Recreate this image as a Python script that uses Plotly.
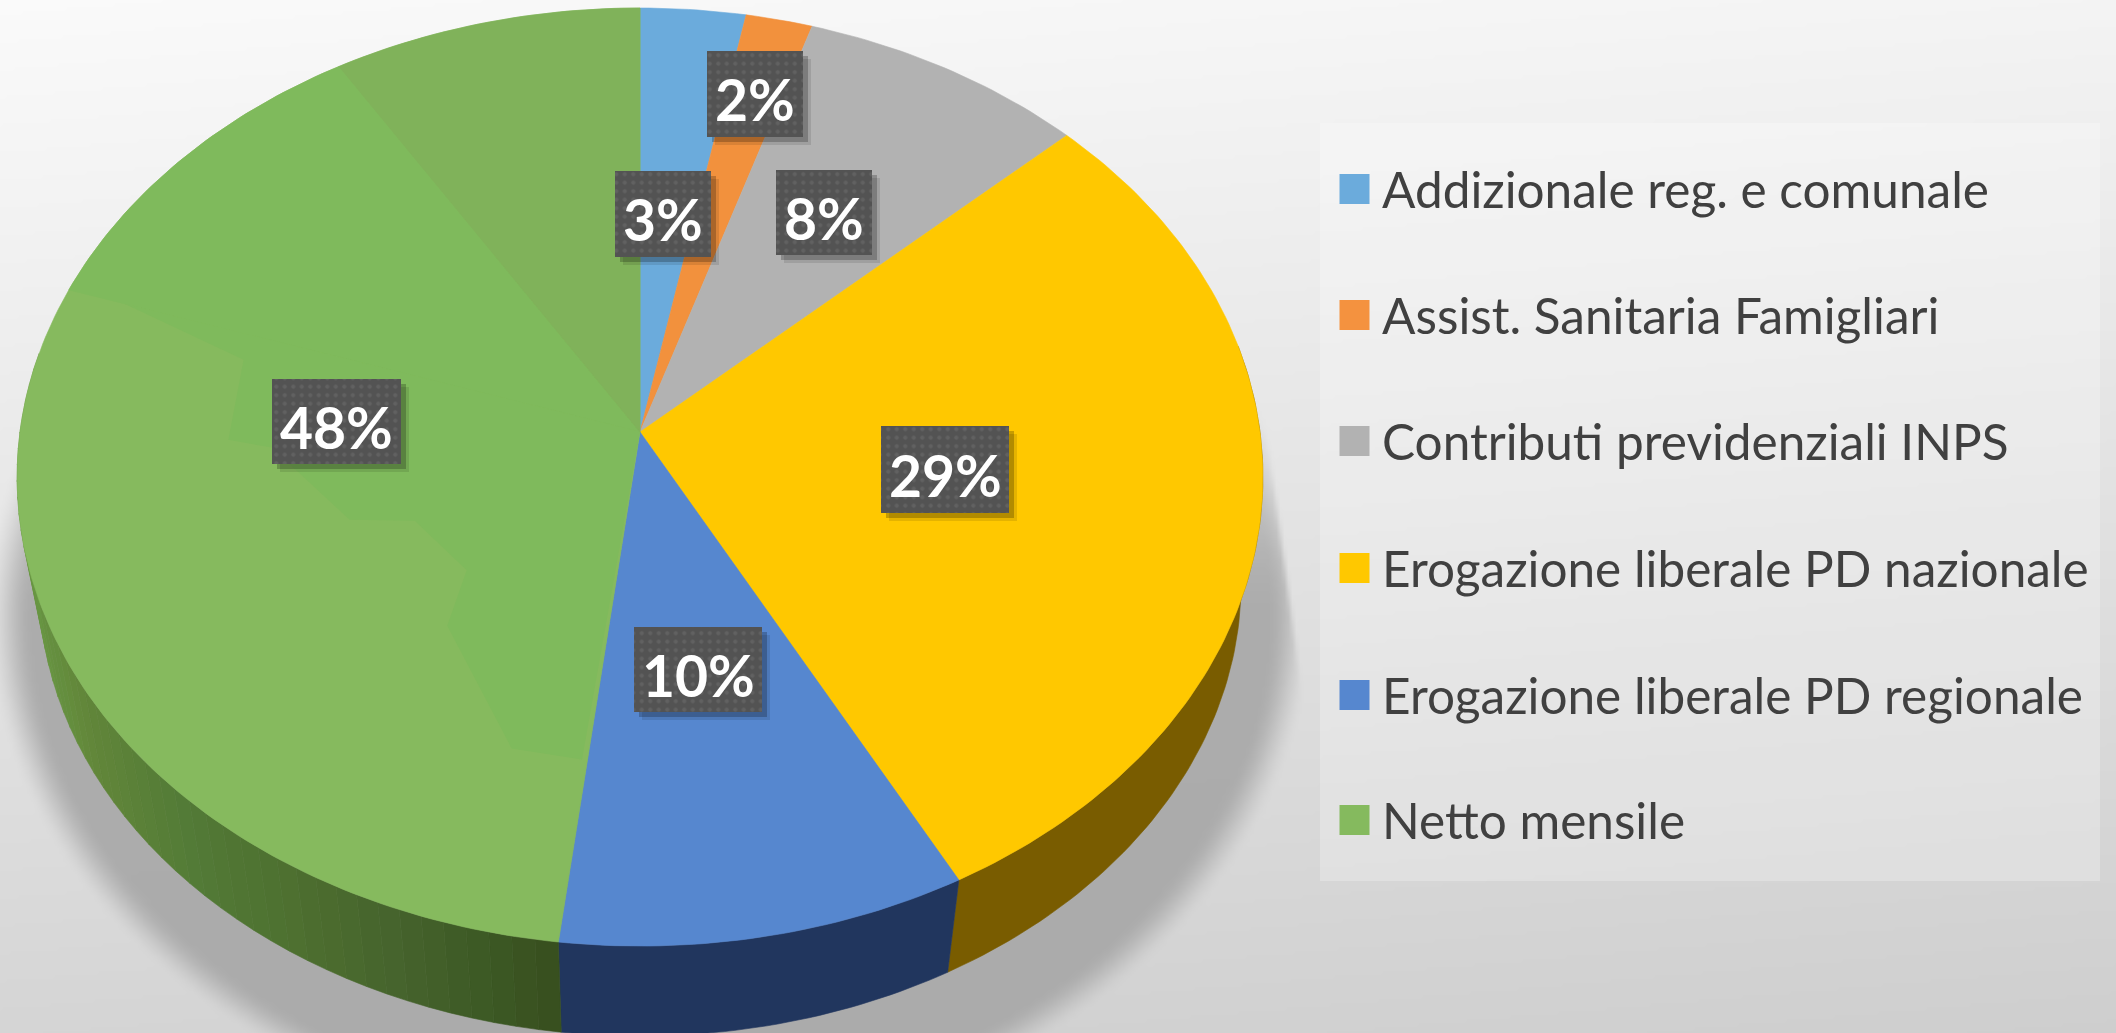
import numpy as np
import plotly.graph_objects as go

# ---------- data ----------
categories = ["Addizionale reg. e comunale", "Assist. Sanitaria Famigliari",
              "Contributi previdenziali INPS", "Erogazione liberale PD nazionale",
              "Erogazione liberale PD regionale", "Netto mensile"]
values = [3.0, 1.9, 8.2, 29.1, 9.7, 48.1]

# ---------- styles ----------
top_colors = ["#6BABDC", "#F2913D", "#B2B2B2", "#FFC800", "#5687CF", "#86BA5E"]
wall_colors = [None, None, None, "#795C00", "#21365E", None]
swatch_colors = ["#6BABDC", "#F4923F", "#B2B2B2", "#FFC800", "#5687CF", "#85BA5E"]
label_boxes = [(615, 711, 171, 257), (707, 803, 51, 137), (776, 872, 170, 255),
               (881, 1009, 426, 513), (634, 762, 627, 712), (272, 401, 379, 464)]
legend_y = [188, 314, 440, 567, 694, 819]
W, H = 2116, 1033
FONT = "Lato"

# ---------- geometry: perspective projection of the pie disc ----------
CX, CY, R, S, K = 640.0, 432.0, 620.0, 464.7, 0.096
WALL_SCALE, WALL_DROP = 0.965, 108.0


def rim(share, radius=1.0):
    t = 2 * np.pi * np.asarray(share, dtype=float) / 100
    X, Y = radius * np.sin(t), radius * np.cos(t)
    w = 1 + K * Y
    return CX + R * X / w, CY - S * Y / w


def lower(x, y):
    return CX + WALL_SCALE * (x - CX), CY + WALL_SCALE * (y - CY) + WALL_DROP


def wedge(a, b, color, name):
    n = max(2, int((b - a) * 4))
    x, y = rim(np.linspace(a, b, n))
    return go.Scatter(x=np.r_[CX, x, CX], y=np.r_[CY, y, CY], mode="lines", fill="toself",
                      fillcolor=color, line=dict(color=color, width=0.6), name=name,
                      hoverinfo="name", showlegend=False)


def wall(a, b, color, name):
    x, y = rim(np.linspace(a, b, max(2, int((b - a) * 4))))
    x2, y2 = lower(x, y)
    return go.Scatter(x=np.r_[x, x2[::-1], x[0]], y=np.r_[y, y2[::-1], y[0]], mode="lines",
                      fill="toself", fillcolor=color, line=dict(color=color, width=0.6),
                      name=name, hoverinfo="skip", showlegend=False)


def hexmix(x):
    stops_x = [30, 100, 200, 300, 400, 500, 560]
    stops = np.array([[0x6A, 0x9A, 0x45], [0x62, 0x87, 0x3A], [0x53, 0x7B, 0x37], [0x4E, 0x70, 0x30],
                      [0x46, 0x64, 0x2D], [0x3C, 0x58, 0x24], [0x38, 0x4F, 0x1E]], dtype=float)
    c = [np.interp(x, stops_x, stops[:, i]) for i in range(3)]
    return "rgb(%d,%d,%d)" % tuple(c)


# ---------- background with gradient and soft shadow ----------
step = 4
gx = np.arange(0, W + step, step, dtype=float)
gy = np.arange(0, H + step, step, dtype=float)
XX, YY = np.meshgrid(gx, gy)
base = 250 - 44 * (0.85 * YY / H + 0.15 * XX / W)


def smooth(t):
    t = np.clip(t, 0, 1)
    return t * t * (3 - 2 * t)


r = np.sqrt(((XX - 650) / 600) ** 2 + ((YY - 610) / 480) ** 2)
shade = smooth((1.11 - r) / 0.08)
shade *= smooth((YY - 330) / 290) * 0.9 + 0.03 * (YY > 300)
line_r = 1253 + (YY - 333) * (1307 - 1253) / (733 - 333)
shade *= np.where(YY < 733, smooth((line_r - XX) / 8 + 0.5), 1)
line_l = (520 - YY) * 22 / 160
shade *= smooth((XX - line_l) / 6 + 0.5) * 0.5 + 0.5
background = 168 + (base - 168) * (1 - shade)

fig = go.Figure()
fig.add_trace(go.Heatmap(x=gx, y=gy, z=np.round(background).astype(int), zmin=0, zmax=255,
                         colorscale=[[0, "#000000"], [1, "#ffffff"]], showscale=False,
                         zsmooth="best", hoverinfo="skip"))

# legend panel
fig.add_trace(go.Scatter(x=[1320, 2100, 2100, 1320, 1320], y=[123, 123, 881, 881, 123], mode="lines",
                         fill="toself", fillcolor="rgba(255,255,255,0.25)", line=dict(width=0),
                         hoverinfo="skip", showlegend=False))

# ---------- pie ----------
edges = np.r_[0, np.cumsum(values)]
fig.add_trace(wall(22, edges[4], wall_colors[3], categories[3]))
fig.add_trace(wall(edges[4], edges[5], wall_colors[4], categories[4]))

# green wall, drawn in narrow facets
facet_edges = np.arange(edges[5], 78.01, 0.55)
for a, b in zip(facet_edges[:-1], facet_edges[1:]):
    xa, _ = rim((a + b) / 2)
    col = hexmix(float(lower(xa, 0)[0]))
    fig.add_trace(wall(a, b, col, categories[5]))

for i in range(6):
    fig.add_trace(wedge(edges[i], edges[i + 1], top_colors[i], categories[i]))

# subtle facets in the green slice
fig.add_trace(wedge(80.1, 91.2, "#7FBA5C", categories[5]))
fig.add_trace(wedge(91.2, 100.0, "#80B25A", categories[5]))
prof_s = np.array([80.1, 78.8, 74.6, 74.1, 68.9, 67.3, 62.0, 60.2, 54.7, 52.1])
prof_r = np.array([0.90, 0.668, 0.663, 0.593, 0.496, 0.403, 0.397, 0.50, 0.668, 0.666])
px, py = rim(prof_s, prof_r)
fig.add_trace(go.Scatter(x=np.r_[CX, px, CX], y=np.r_[CY, py, CY], mode="lines", fill="toself",
                         fillcolor="#7FBA5C", line=dict(width=0), hoverinfo="skip", showlegend=False))

# ---------- data labels ----------
annotations = []
for (x0, x1, y0, y1), v in zip(label_boxes, values):
    for off, alpha in ((8, 0.10), (5, 0.22)):
        fig.add_trace(go.Scatter(x=[x0 + off, x1 + off, x1 + off, x0 + off, x0 + off],
                                 y=[y0 + off, y0 + off, y1 + off, y1 + off, y0 + off], mode="lines",
                                 fill="toself", fillcolor=f"rgba(0,0,0,{alpha})", line=dict(width=0),
                                 hoverinfo="skip", showlegend=False))
    fig.add_trace(go.Scatter(x=[x0, x1, x1, x0, x0], y=[y0, y0, y1, y1, y0], mode="lines",
                             fill="toself", fillcolor="#535353", line=dict(width=0),
                             fillpattern=dict(shape=".", size=8.5, solidity=0.18, bgcolor="#535353",
                                              fgcolor="#707070"),
                             hoverinfo="skip", showlegend=False))
    annotations.append(dict(x=(x0 + x1) / 2, y=(y0 + y1) / 2, yshift=-5, text=f"<b>{round(v)}%</b>",
                            showarrow=False, xref="x", yref="y", xanchor="center", yanchor="middle",
                            font=dict(family=FONT, size=57, color="#ffffff")))

# ---------- legend ----------
for name, col, y in zip(categories, swatch_colors, legend_y):
    fig.add_trace(go.Scatter(x=[1354.5], y=[y + 1], mode="markers", name=name, showlegend=False, hoverinfo="name",
                             marker=dict(symbol="square", size=30, color=col, line=dict(width=0))))
    annotations.append(dict(x=1380, y=y + 1, text=name, showarrow=False, xref="x", yref="y",
                            xanchor="left", yanchor="middle",
                            font=dict(family=FONT, size=49.5, color="#404040")))

fig.update_layout(width=W, height=H, margin=dict(l=0, r=0, t=0, b=0), showlegend=False,
                  paper_bgcolor="#eeeeee", plot_bgcolor="#eeeeee", annotations=annotations,
                  xaxis=dict(range=[0, W], visible=False, fixedrange=True),
                  yaxis=dict(range=[H, 0], visible=False, fixedrange=True))
fig.write_html("out.html", post_script="document.body.style.margin='0';document.body.style.overflow='hidden';",
               config=dict(displayModeBar=False))
